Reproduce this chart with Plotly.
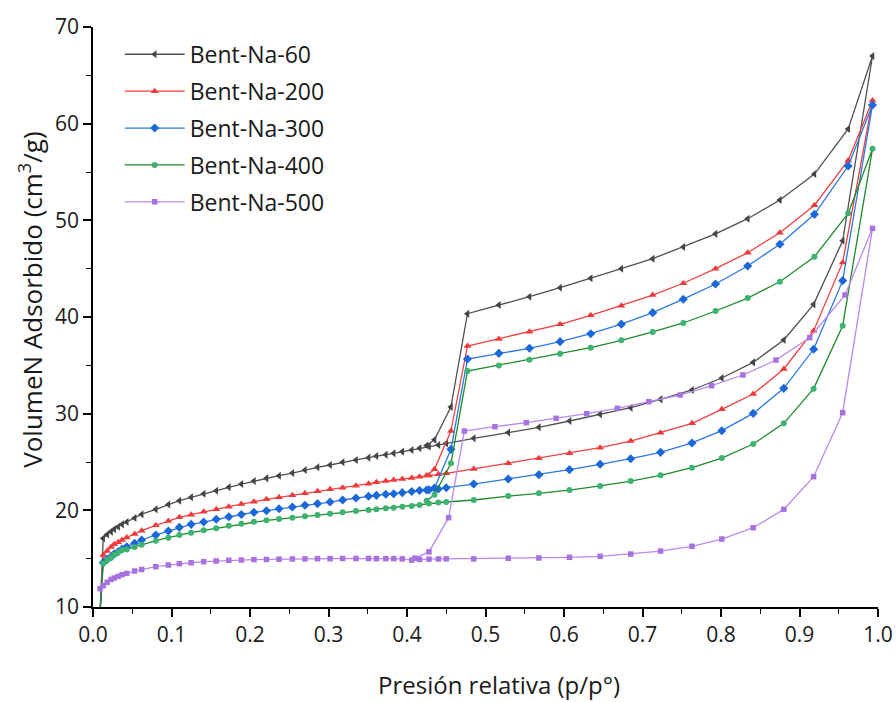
import plotly.graph_objects as go

# ---------------- data ----------------
p_ads = [0.009, 0.013, 0.018, 0.023, 0.027, 0.032, 0.037, 0.043, 0.053, 0.062,
         0.080, 0.096, 0.110, 0.125, 0.141, 0.157, 0.173, 0.189, 0.205, 0.221,
         0.237, 0.254, 0.270, 0.286, 0.302, 0.318, 0.335, 0.351, 0.361, 0.373,
         0.383, 0.394, 0.406, 0.416, 0.428, 0.440, 0.450, 0.485, 0.529, 0.568,
         0.607, 0.646, 0.685, 0.723, 0.763, 0.801, 0.841, 0.880, 0.918, 0.955,
         0.993]
p_des = [0.962, 0.919, 0.875, 0.834, 0.793, 0.752, 0.713, 0.673, 0.634, 0.595,
         0.556, 0.517, 0.477, 0.456, 0.435, 0.425]
p_des_500 = [0.958, 0.913, 0.870, 0.828, 0.788, 0.748, 0.708, 0.668, 0.629, 0.590,
             0.552, 0.512, 0.473, 0.453, 0.428, 0.410]

ads_60 = [9.5, 17.1, 17.5, 17.8, 18.05, 18.3, 18.55, 18.8, 19.2, 19.6,
          20.1, 20.6, 21.0, 21.35, 21.72, 22.03, 22.38, 22.72, 23.03, 23.31,
          23.58, 23.86, 24.17, 24.45, 24.69, 24.97, 25.21, 25.45, 25.62, 25.76,
          25.9, 26.07, 26.24, 26.42, 26.6, 26.75, 26.93, 27.45, 28.05, 28.59,
          29.24, 29.93, 30.62, 31.48, 32.45, 33.69, 35.31, 37.62, 41.31, 47.89,
          67.0]
des_60 = [59.45, 54.79, 52.1, 50.17, 48.6, 47.24, 46.03, 45.0, 44.0, 43.03,
          42.1, 41.24, 40.34, 30.7, 27.3, 26.7]

ads_200 = [9.5, 15.38, 15.8, 16.2, 16.5, 16.7, 16.93, 17.2, 17.55, 17.9,
           18.45, 18.9, 19.28, 19.55, 19.86, 20.1, 20.38, 20.65, 20.89, 21.14,
           21.35, 21.55, 21.76, 21.97, 22.17, 22.34, 22.55, 22.76, 22.9, 23.03,
           23.14, 23.24, 23.34, 23.48, 23.6, 23.72, 23.83, 24.28, 24.88, 25.4,
           25.9, 26.48, 27.17, 28.03, 29.0, 30.45, 32.03, 34.62, 38.58, 45.65,
           62.4]
des_200 = [56.2, 51.56, 48.72, 46.65, 45.0, 43.49, 42.27, 41.17, 40.17, 39.24,
           38.48, 37.72, 37.0, 28.2, 24.24, 23.6]

ads_300 = [9.5, 14.58, 14.93, 15.2, 15.48, 15.72, 16.0, 16.24, 16.59, 16.93,
           17.45, 17.86, 18.24, 18.55, 18.79, 19.07, 19.34, 19.57, 19.79, 19.96,
           20.17, 20.34, 20.52, 20.69, 20.86, 21.07, 21.28, 21.45, 21.55, 21.66,
           21.72, 21.83, 21.95, 22.05, 22.12, 22.2, 22.34, 22.72, 23.24, 23.69,
           24.21, 24.76, 25.34, 26.0, 26.97, 28.24, 30.03, 32.62, 36.66, 43.76,
           61.93]
des_300 = [55.62, 50.62, 47.52, 45.27, 43.41, 41.84, 40.45, 39.26, 38.27, 37.45,
           36.76, 36.24, 35.65, 26.31, 22.3, 22.1]

ads_400 = [9.5, 14.5, 14.85, 15.1, 15.4, 15.65, 15.9, 15.95, 16.2, 16.45,
           16.86, 17.17, 17.45, 17.69, 17.93, 18.14, 18.4, 18.6, 18.83, 18.97,
           19.1, 19.24, 19.38, 19.52, 19.65, 19.79, 19.93, 20.03, 20.1, 20.21,
           20.27, 20.38, 20.45, 20.55, 20.7, 20.8, 20.86, 21.07, 21.48, 21.76,
           22.1, 22.52, 23.03, 23.62, 24.41, 25.41, 26.86, 29.0, 32.59, 39.1,
           57.4]
des_400 = [50.72, 46.24, 43.65, 41.96, 40.62, 39.38, 38.45, 37.59, 36.83, 36.21,
           35.59, 34.97, 34.41, 24.86, 21.6, 21.0]

ads_500 = [11.9, 12.2, 12.55, 12.85, 13.0, 13.17, 13.34, 13.48, 13.72, 13.88,
           14.17, 14.34, 14.48, 14.58, 14.69, 14.76, 14.83, 14.86, 14.9, 14.92,
           14.95, 14.97, 14.98, 15.0, 15.0, 15.02, 15.02, 15.02, 15.0, 15.0,
           15.0, 14.98, 14.85, 14.92, 14.95, 14.97, 14.98, 14.97, 15.04, 15.07,
           15.14, 15.24, 15.48, 15.79, 16.28, 17.03, 18.2, 20.1, 23.48, 30.1,
           49.17]
des_500 = [42.28, 37.86, 35.55, 34.0, 32.9, 31.93, 31.24, 30.55, 30.0, 29.52,
           29.07, 28.65, 28.2, 19.24, 15.7, 15.05]

names = ["Bent-Na-60", "Bent-Na-200", "Bent-Na-300", "Bent-Na-400", "Bent-Na-500"]

# ---------------- styles ----------------
series = [
    (names[0], ads_60, des_60, p_des, "#505050", "#454545", "triangle-left", 7),
    (names[1], ads_200, des_200, p_des, "#F04040", "#F03A3A", "triangle-up", 7),
    (names[2], ads_300, des_300, p_des, "#2A78E4", "#1C68D8", "diamond", 7),
    (names[3], ads_400, des_400, p_des, "#1E8C2A", "#3CB371", "circle", 6),
    (names[4], ads_500, des_500, p_des_500, "#B98AEA", "#A872DE", "square", 5.5),
]

fig = go.Figure()
for i, (nm, ads, des, pd_, lc, mc, sym, ms) in enumerate(series):
    fig.add_trace(go.Scatter(
        x=list(p_ads) + list(pd_),
        y=list(ads) + list(des),
        mode="lines+markers",
        name=nm,
        legendgroup="g%d" % i,
        line=dict(color=lc, width=1.3),
        marker=dict(symbol=sym, size=ms, color=mc, line=dict(width=0)),
    ))

fig.update_layout(
    width=896, height=702,
    margin=dict(l=93, r=18, t=27, b=95, autoexpand=False),
    paper_bgcolor="white", plot_bgcolor="white",
    font=dict(family="Open Sans", color="#1a1a1a"),
    showlegend=True,
    legend=dict(
        x=0.034, y=0.99, xanchor="left", yanchor="top",
        font=dict(family="Open Sans", size=23, color="#1a1a1a"),
        bgcolor="rgba(0,0,0,0)", traceorder="grouped", tracegroupgap=4,
        itemwidth=60,
    ),
    xaxis=dict(
        range=[0, 1.0], tick0=0, dtick=0.1, tickformat=".1f",
        showline=True, linecolor="black", linewidth=1.8,
        ticks="outside", ticklen=8, tickwidth=1.6, tickcolor="black",
        minor=dict(ticks="outside", ticklen=5, tickwidth=1.4, dtick=0.05, tickcolor="black"),
        showgrid=False, zeroline=False, mirror=False,
        tickfont=dict(family="Liberation Sans Narrow, Open Sans", size=21, color="#1a1a1a"),
    ),
    yaxis=dict(
        range=[10, 70], tick0=10, dtick=10,
        showline=True, linecolor="black", linewidth=1.8,
        ticks="outside", ticklen=8, tickwidth=1.6, tickcolor="black",
        minor=dict(ticks="outside", ticklen=5, tickwidth=1.4, dtick=5, tickcolor="black"),
        showgrid=False, zeroline=False, mirror=False,
        tickfont=dict(family="Open Sans", size=21, color="#1a1a1a"),
    ),
    annotations=[
        dict(text="VolumeN Adsorbido (cm<sup>3</sup>/g)", textangle=-90,
             xref="paper", yref="paper", x=-0.08, y=0.53,
             xanchor="center", yanchor="middle", showarrow=False,
             font=dict(family="Open Sans", size=26, color="#1a1a1a")),
        dict(text="Presión relativa (p/p°)",
             xref="paper", yref="paper", x=0.517, y=-0.133,
             xanchor="center", yanchor="middle", showarrow=False,
             font=dict(family="Open Sans", size=24, color="#1a1a1a")),
    ],
)

fig.write_html("out.html")
